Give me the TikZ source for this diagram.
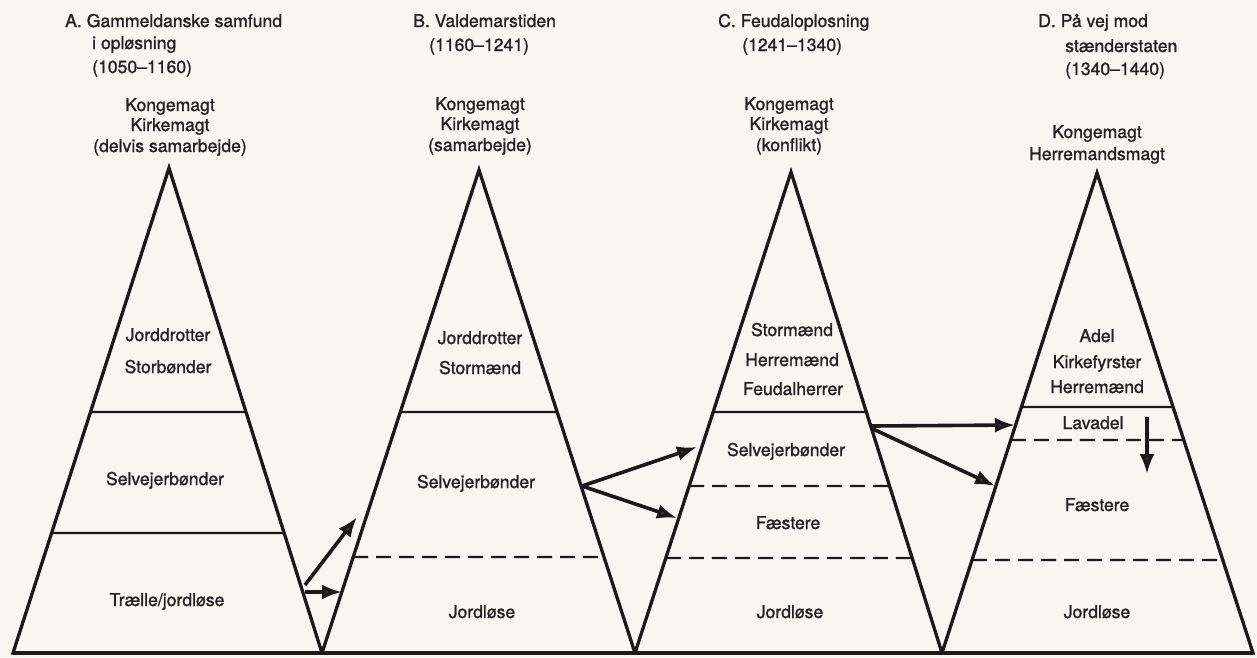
\documentclass[tikz,border=0pt]{standalone}
\usepackage{fontspec}
\setmainfont{TeX Gyre Heros}
\newfontfamily\heavysans{TeX Gyre Heros}[FakeBold=1.2]
\usetikzlibrary{arrows.meta}
\definecolor{paper}{HTML}{F8F6EF}
\definecolor{ink}{HTML}{1A1A1A}
\definecolor{txt}{HTML}{222222}
\newcommand\layerline[5]{\draw[#5] (intersection of #1--#2 and 0,#4--1,#4) -- (intersection of #1--#3 and 0,#4--1,#4);}
\begin{document}
\begin{tikzpicture}[x=1pt,y=-1pt,
  lbl/.style={font=\heavysans\fontsize{17.6}{21}\selectfont, text=txt, inner sep=0pt, anchor=base},
  ttl/.style={lbl, anchor=base west},
  edgeline/.style={draw=ink, line width=3.3pt, line join=miter},
  solidline/.style={draw=ink, line width=2.2pt},
  dashline/.style={draw=ink, line width=2.4pt, dash pattern=on 15pt off 8pt},
  arr/.style={draw=ink, line width=3.6pt, -{Latex[length=20pt,width=15pt,fill=gray!50!black]}}
]
\useasboundingbox[fill=paper] (0,0) rectangle (1257,657);

% triangle corners
\coordinate (Aa) at (169,168); \coordinate (Al) at (13,653);  \coordinate (Ar) at (322,653);
\coordinate (Ba) at (479,170); \coordinate (Bl) at (322,653); \coordinate (Br) at (635,653);
\coordinate (Ca) at (791,172); \coordinate (Cl) at (635,653); \coordinate (Cr) at (942,653);
\coordinate (Da) at (1097,173); \coordinate (Dl) at (942,653); \coordinate (Dr) at (1253,653);

\draw[edgeline] (Aa) -- (Al) -- (Ar) -- cycle;
\draw[edgeline] (Ba) -- (Bl) -- (Br) -- cycle;
\draw[edgeline] (Ca) -- (Cl) -- (Cr) -- cycle;
\draw[edgeline] (Da) -- (Dl) -- (Dr) -- cycle;
\draw[edgeline, line width=3.8pt] (Al) -- (Dr);

% layer lines
\layerline{Aa}{Al}{Ar}{412}{solidline}
\layerline{Aa}{Al}{Ar}{533}{solidline}
\layerline{Ba}{Bl}{Br}{412}{solidline}
\layerline{Ba}{Bl}{Br}{557}{dashline}
\layerline{Ca}{Cl}{Cr}{412}{solidline}
\layerline{Ca}{Cl}{Cr}{486}{dashline}
\layerline{Ca}{Cl}{Cr}{558}{dashline}
\layerline{Da}{Dl}{Dr}{407}{solidline}
\layerline{Da}{Dl}{Dr}{440}{dashline}
\layerline{Da}{Dl}{Dr}{560}{dashline}

% titles
\node[ttl] (tA1) at (65,27) {A. Gammeldanske samfund};
\node[ttl] (tA2) at (92,49) {i opløsning};
\node[ttl] (tA3) at (92,73) {(1050–1160)};
\node[ttl] (tB1) at (413,27) {B. Valdemarstiden};
\node[ttl] (tB2) at (429,51) {(1160–1241)};
\node[ttl] (tC1) at (718,27) {C. Feudaloplosning};
\node[ttl] (tC2) at (742,51) {(1241–1340)};
\node[ttl] (tD1) at (1038,27) {D. På vej mod};
\node[ttl] (tD2) at (1065,52) {stænderstaten};
\node[ttl] (tD3) at (1065,75) {(1340–1440)};

% power labels
\node[lbl] (pA1) at (170,111) {Kongemagt};
\node[lbl] (pA2) at (170,131) {Kirkemagt};
\node[lbl] (pA3) at (170,152) {(delvis samarbejde)};
\node[lbl] (pB1) at (480,110) {Kongemagt};
\node[lbl] (pB2) at (480,130) {Kirkemagt};
\node[lbl] (pB3) at (480,151) {(samarbejde)};
\node[lbl] (pC1) at (789,110) {Kongemagt};
\node[lbl] (pC2) at (789,130) {Kirkemagt};
\node[lbl] (pC3) at (789,151) {(konflikt)};
\node[lbl] (pD1) at (1097,138) {Kongemagt};
\node[lbl] (pD2) at (1097,160) {Herremandsmagt};

% layer labels A
\node[lbl] (lA1) at (168,341) {Jorddrotter};
\node[lbl] (lA2) at (168,373) {Storbønder};
\node[lbl] (lA3) at (165,485) {Selvejerbønder};
\node[lbl] (lA4) at (167,606) {Trælle/jordløse};
% layer labels B
\node[lbl] (lB1) at (480,344) {Jorddrotter};
\node[lbl] (lB2) at (480,374) {Stormænd};
\node[lbl] (lB3) at (476,488) {Selvejerbønder};
\node[lbl] (lB4) at (482,618) {Jordløse};
% layer labels C
\node[lbl] (lC1) at (792,336) {Stormænd};
\node[lbl] (lC2) at (792,366) {Herremænd};
\node[lbl] (lC3) at (793,395) {Feudalherrer};
\node[lbl] (lC4) at (786,456) {Selvejerbønder};
\node[lbl] (lC5) at (788,529) {Fæstere};
\node[lbl] (lC6) at (790,618) {Jordløse};
% layer labels D
\node[lbl] (lD1) at (1097,342) {Adel};
\node[lbl] (lD2) at (1097,368) {Kirkefyrster};
\node[lbl] (lD3) at (1097,393) {Herremænd};
\node[lbl] (lD4) at (1093,429) {Lavadel};
\node[lbl] (lD5) at (1097,511) {Fæstere};
\node[lbl] (lD6) at (1097,618) {Jordløse};

% arrows
\coordinate (s1) at (305,585); \coordinate (e1) at (357,517);
\coordinate (s2) at (305,592); \coordinate (e2) at (342,592);
\coordinate (s3) at (582,486); \coordinate (e3) at (697,447);
\coordinate (e4) at (677,518);
\coordinate (s5) at (872,426); \coordinate (e5) at (1015,425);
\coordinate (s6) at (873,429); \coordinate (e6) at (995,486);
\coordinate (s7) at (1147,417); \coordinate (e7) at (1147,474);
\draw[arr] (s1) -- (e1);
\draw[arr] (s2) -- (e2);
\draw[arr] (s3) -- (e3);
\draw[arr] (s3) -- (e4);
\draw[arr] (s5) -- (e5);
\draw[arr] (s6) -- (e6);
\draw[arr] (s7) -- (e7);
\end{tikzpicture}
\end{document}
